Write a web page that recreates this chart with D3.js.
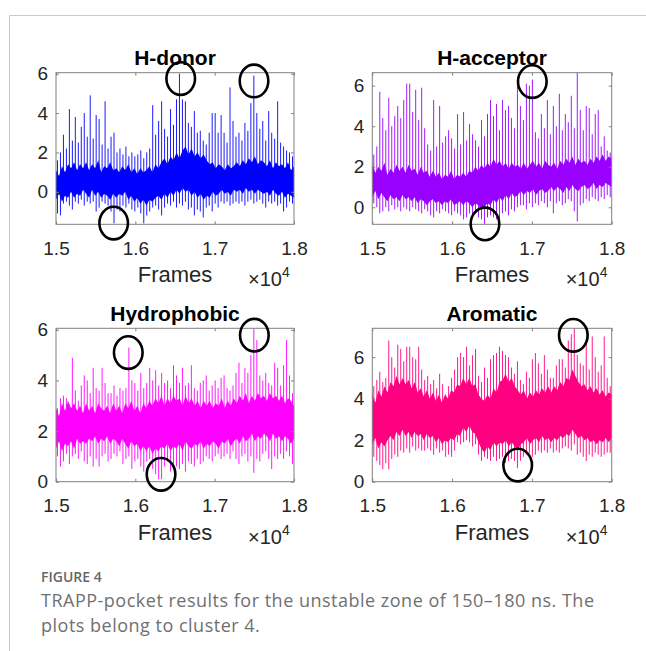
<!DOCTYPE html>
<html>
<head>
<meta charset="utf-8">
<style>
	body {margin: 0; background: #fff;}
	svg {display: block;}
	.tick text {font-family: "Liberation Sans", Arial, sans-serif; font-size: 19px; fill: #262626;}
</style>
<script src="https://d3js.org/d3.v7.min.js"></script>
</head>
<body>
<svg id="fig" width="646" height="651"></svg>

<script id="data">
	// frames run 1.5e4 .. 1.8e4 in every panel
	var frameRange = [15000, 18000];
	var xTicks = [15000, 16000, 17000, 18000];
	var xTickLabels = ["1.5", "1.6", "1.7", "1.8"];
	var yTicks = [0, 2, 4, 6];
	var titles = ["H-donor", "H-acceptor", "Hydrophobic", "Aromatic"];
	var colors = ["#0000ff", "#9900ff", "#ff00ff", "#ff0080"];
	var yLimits = [[-1.65, 6.05], [-0.84, 6.64], [0.0, 6.06], [0.0, 7.39]];

	// dense core of each trace, 80 bins (upper / lower edge of the thick part)
	var bandTop1 = [1.1, 0.8, 1.3, 1.0, 1.4, 1.2, 1.5, 1.1, 1.4, 1.2, 1.5, 1.1, 1.4, 1.2, 1.6, 1.0, 1.3, 1.2, 1.5, 1.1,
		1.2, 1.0, 1.3, 1.1, 1.4, 1.0, 1.2, 0.9, 1.2, 1.0, 1.1, 1.3, 1.0, 1.4, 1.2, 1.5, 1.7, 1.4, 1.8, 1.6,
		2.0, 1.7, 2.1, 2.3, 1.9, 2.2, 1.8, 2.0, 1.7, 1.9, 1.6, 1.4, 1.5, 1.2, 1.4, 1.3, 1.1, 1.4, 1.2, 1.3,
		1.5, 1.3, 1.6, 1.4, 1.7, 1.5, 1.8, 1.4, 1.6, 1.5, 1.3, 1.6, 1.2, 1.5, 1.3, 1.4, 1.2, 1.5, 1.1, 1.3];
	var bandBot1 = [-0.4, -0.1, -0.5, -0.2, -0.3, 0.0, -0.3, -0.1, -0.2, 0.1, -0.1, -0.3, 0.1, -0.2, 0.0, -0.3, -0.1, -0.2, -0.4, -0.1,
		-0.3, -0.1, -0.2, 0.0, -0.4, -0.2, -0.5, -0.3, -0.6, -0.4, -0.7, -0.4, -0.5, -0.3, -0.2, -0.4, -0.1, -0.3, 0.0, -0.2,
		0.1, -0.1, 0.2, 0.0, 0.1, -0.2, 0.0, -0.3, -0.1, -0.4, -0.2, -0.3, 0.0, -0.2, -0.1, 0.1, -0.1, 0.0, -0.2, 0.1,
		0.0, 0.1, -0.1, 0.2, 0.0, 0.1, -0.1, 0.1, 0.0, -0.1, 0.0, -0.2, 0.1, -0.1, -0.2, 0.0, -0.3, -0.1, -0.2, -0.3];
	var bandTop2 = [2.1, 1.7, 2.0, 1.8, 2.2, 1.6, 1.9, 1.7, 2.1, 1.8, 2.0, 1.7, 2.1, 1.8, 1.9, 1.6, 2.0, 1.7, 1.8, 1.5,
		1.8, 1.5, 1.7, 1.4, 1.6, 1.5, 1.8, 1.4, 1.6, 1.5, 1.7, 1.5, 1.8, 1.7, 2.0, 1.8, 2.1, 1.9, 2.2, 2.0,
		2.4, 2.1, 2.3, 2.0, 2.2, 1.9, 2.2, 2.0, 2.1, 1.9, 2.2, 1.9, 2.1, 2.3, 2.0, 2.2, 1.9, 2.3, 2.1, 2.0,
		2.2, 1.9, 2.3, 2.1, 2.4, 2.2, 2.5, 2.1, 2.4, 2.2, 2.3, 2.1, 2.4, 2.2, 2.5, 2.3, 2.6, 2.3, 2.5, 2.4];
	var bandBot2 = [0.5, 0.8, 0.4, 0.7, 0.5, 0.3, 0.6, 0.4, 0.5, 0.3, 0.6, 0.4, 0.5, 0.3, 0.5, 0.2, 0.4, 0.3, 0.1, 0.3,
		0.4, 0.2, 0.3, 0.1, 0.3, 0.2, 0.4, 0.1, 0.2, 0.3, 0.1, 0.3, 0.2, 0.0, 0.2, 0.1, -0.1, 0.0, 0.2, 0.1,
		0.4, 0.2, 0.5, 0.3, 0.6, 0.4, 0.7, 0.5, 0.6, 0.8, 0.6, 0.8, 0.7, 0.9, 0.6, 0.8, 0.9, 0.7, 0.8, 1.0,
		0.8, 1.0, 0.9, 0.7, 1.0, 0.8, 1.1, 0.9, 0.8, 1.0, 1.1, 0.9, 1.0, 1.2, 0.9, 1.1, 1.0, 1.2, 1.1, 1.0];
	var bandTop3 = [2.9, 2.6, 3.1, 2.8, 3.2, 2.9, 3.1, 2.8, 3.0, 2.7, 3.1, 2.8, 3.0, 2.7, 3.1, 2.9, 2.8, 3.0, 2.7, 3.1,
		2.8, 3.0, 2.7, 3.1, 2.9, 3.2, 2.8, 3.0, 2.7, 3.1, 2.9, 3.2, 3.0, 3.3, 3.1, 3.4, 3.0, 3.3, 3.1, 3.4,
		3.2, 3.3, 3.0, 3.4, 3.1, 3.3, 3.0, 3.2, 2.9, 3.2, 3.0, 3.2, 2.9, 3.1, 3.0, 3.3, 2.9, 3.2, 3.0, 3.3,
		3.1, 3.4, 3.2, 3.5, 3.1, 3.4, 3.2, 3.5, 3.3, 3.4, 3.2, 3.5, 3.3, 3.4, 3.2, 3.4, 3.1, 3.3, 3.2, 3.0];
	var bandBot3 = [1.3, 1.6, 1.2, 1.5, 1.4, 1.6, 1.3, 1.7, 1.5, 1.6, 1.5, 1.7, 1.6, 1.8, 1.5, 1.7, 1.6, 1.8, 1.5, 1.7,
		1.6, 1.4, 1.7, 1.5, 1.3, 1.6, 1.4, 1.5, 1.2, 1.4, 1.2, 1.4, 1.1, 1.3, 1.2, 1.4, 1.3, 1.5, 1.2, 1.4,
		1.3, 1.5, 1.2, 1.6, 1.4, 1.3, 1.5, 1.4, 1.6, 1.3, 1.5, 1.4, 1.6, 1.5, 1.3, 1.6, 1.5, 1.7, 1.4, 1.6,
		1.7, 1.5, 1.8, 1.6, 1.7, 1.9, 1.6, 1.8, 1.7, 1.9, 1.8, 1.6, 1.9, 1.7, 1.8, 1.6, 1.8, 1.7, 1.5, 1.7];
	var bandTop4 = [4.2, 3.8, 4.4, 4.1, 4.6, 4.3, 4.8, 4.6, 5.1, 4.7, 5.0, 4.7, 4.9, 4.5, 4.8, 4.3, 4.5, 4.1, 4.4, 4.0,
		4.3, 3.9, 4.2, 3.8, 4.2, 4.0, 4.4, 4.3, 4.7, 4.6, 5.0, 4.7, 5.0, 4.6, 4.7, 4.2, 4.0, 3.9, 4.2, 4.0,
		4.5, 4.3, 4.8, 4.9, 5.2, 4.8, 5.0, 4.6, 4.4, 4.2, 4.4, 4.0, 4.3, 4.1, 4.4, 4.2, 4.5, 4.3, 4.6, 4.3,
		4.6, 4.4, 4.8, 4.6, 5.0, 4.9, 5.4, 5.1, 4.8, 4.6, 4.7, 4.4, 4.6, 4.3, 4.5, 4.2, 4.4, 4.1, 4.3, 4.2];
	var bandBot4 = [1.8, 2.1, 1.6, 1.9, 1.7, 2.0, 2.2, 2.0, 2.4, 2.2, 2.5, 2.2, 2.4, 2.1, 2.4, 2.2, 2.3, 2.0, 2.3, 2.1,
		2.2, 1.9, 2.1, 1.8, 2.0, 1.9, 2.1, 2.0, 2.3, 2.2, 2.6, 2.4, 2.7, 2.4, 2.3, 1.9, 1.6, 1.4, 1.7, 1.5,
		1.9, 1.7, 1.9, 1.8, 2.0, 1.7, 1.9, 1.7, 1.5, 1.8, 1.9, 2.1, 1.8, 2.0, 2.1, 1.9, 2.2, 2.0, 2.1, 1.9,
		2.1, 2.0, 2.2, 2.1, 2.3, 2.2, 2.5, 2.3, 2.1, 2.2, 2.0, 2.1, 1.9, 2.0, 1.8, 2.0, 1.9, 2.1, 1.9, 2.1];

	// per-bin max / min (80 bins of 37.5 frames)
	var hi1 = [1.6, 2.0, 2.9, 2.2, 4.2, 2.6, 3.8, 2.5, 3.3, 4.0, 2.8, 4.9, 2.7, 3.9, 3.7, 2.4, 4.6, 2.2, 2.8, 3.0,
		2.0, 2.2, 1.9, 2.3, 1.8, 2.0, 1.8, 1.9, 2.1, 1.7, 2.0, 2.2, 4.4, 2.9, 3.6, 4.6, 3.2, 2.8, 4.2, 3.4,
		4.7, 6.0, 4.7, 4.6, 3.5, 3.3, 4.1, 3.0, 3.1, 2.6, 2.4, 3.0, 4.0, 4.0, 3.0, 3.9, 3.0, 2.5, 5.3, 3.6,
		2.8, 3.0, 2.6, 3.5, 3.1, 4.5, 5.9, 4.0, 3.2, 3.6, 2.6, 4.1, 3.0, 2.7, 4.6, 2.5, 2.3, 2.1, 2.0, 1.8];
	var lo1 = [-1.1, -1.2, -0.6, -0.5, -0.7, -0.9, -0.5, -0.6, -0.4, -0.7, -0.5, -0.6, -0.5, -1.0, -0.8, -0.5, -0.6, -0.7, -1.0, -1.6,
		-0.9, -1.0, -0.7, -0.8, -0.6, -0.9, -1.0, -0.8, -1.1, -1.6, -1.2, -1.0, -0.8, -0.7, -0.9, -1.2, -0.8, -0.6, -0.7, -0.5,
		-0.8, -0.6, -0.7, -0.5, -0.9, -0.8, -1.2, -0.9, -1.0, -1.3, -0.8, -0.7, -1.0, -0.6, -0.8, -0.5, -0.6, -0.5, -0.7, -0.6,
		-0.5, -0.6, -0.5, -0.7, -0.5, -0.4, -0.6, -0.5, -0.4, -0.6, -0.8, -0.5, -0.6, -0.5, -0.7, -0.6, -1.0, -0.8, -0.5, -0.6];
	var hi2 = [2.6, 3.0, 5.7, 4.4, 3.8, 5.4, 4.0, 4.5, 5.0, 4.4, 5.3, 6.1, 6.1, 4.7, 5.8, 4.3, 5.9, 3.9, 3.1, 2.8,
		5.3, 3.0, 5.0, 3.2, 3.5, 3.8, 3.4, 2.9, 4.6, 3.1, 4.7, 3.3, 4.1, 3.6, 3.3, 3.0, 4.3, 3.5, 4.6, 5.3,
		4.5, 5.1, 3.8, 5.3, 4.8, 5.0, 4.4, 3.9, 6.0, 5.0, 4.3, 6.1, 6.0, 6.3, 3.7, 3.4, 4.6, 3.9, 5.3, 3.6,
		5.0, 4.0, 5.6, 3.8, 4.6, 4.2, 5.5, 3.9, 6.64, 4.8, 3.8, 5.0, 4.9, 3.6, 4.6, 4.8, 3.0, 3.5, 2.8, 2.7];
	var lo2 = [0.2, 0.0, -0.3, -0.2, 0.0, -0.2, 0.1, -0.1, 0.0, -0.2, 0.0, -0.1, -0.2, 0.0, -0.1, -0.2, -0.3, -0.1, -0.2, -0.4,
		-0.5, -0.2, -0.3, -0.1, -0.2, -0.3, -0.4, -0.2, -0.3, -0.4, -0.6, -0.5, -0.3, -0.4, -0.3, -0.5, -0.6, -0.85, -0.5, -0.4,
		-0.5, -0.6, -0.85, -0.3, -0.2, -0.4, -0.1, -0.2, 0.0, 0.1, 0.1, -0.1, 0.2, 0.0, 0.2, 0.1, 0.3, 0.2, 0.0, 0.3,
		-0.3, 0.2, 0.3, 0.1, 0.2, 0.4, 0.3, -0.2, -0.7, 0.1, 0.2, 0.4, 0.3, 0.5, 0.4, 0.3, 0.5, 0.4, 0.6, 0.5];
	var hi3 = [2.9, 3.3, 3.4, 3.3, 3.0, 4.9, 3.6, 3.2, 3.8, 4.2, 4.0, 3.5, 4.5, 3.7, 3.6, 4.5, 3.9, 3.5, 3.5, 3.8,
		3.4, 3.7, 3.6, 3.7, 5.3, 4.0, 3.9, 3.6, 4.3, 3.7, 3.9, 4.5, 4.0, 4.4, 3.8, 4.3, 3.9, 4.0, 3.7, 4.6,
		4.2, 3.9, 4.5, 3.8, 3.9, 4.6, 3.7, 3.6, 3.9, 4.0, 4.2, 3.6, 3.8, 4.0, 3.7, 4.1, 4.2, 3.7, 3.6, 3.8,
		4.3, 4.7, 3.9, 4.5, 4.3, 5.0, 6.05, 5.6, 4.2, 4.0, 4.3, 3.9, 3.8, 4.7, 4.5, 3.8, 4.6, 5.6, 4.2, 3.5];
	var lo3 = [1.0, 0.6, 0.8, 1.1, 0.7, 1.0, 1.1, 0.9, 1.2, 0.8, 0.7, 1.0, 0.6, 0.9, 0.6, 1.0, 1.1, 0.8, 0.9, 1.1,
		1.0, 1.2, 0.7, 0.9, 1.0, 0.5, 0.8, 0.9, 0.6, 0.4, 0.8, 0.9, 0.5, 0.3, 0.1, 0.1, 0.6, 0.8, 0.4, 0.7,
		0.6, 0.5, 0.7, 0.4, 0.8, 0.7, 0.6, 0.9, 0.7, 0.8, 1.0, 0.9, 0.8, 1.0, 1.1, 0.9, 1.0, 1.1, 0.9, 1.2,
		0.9, 0.7, 1.0, 1.1, 0.8, 1.0, 0.35, 0.9, 0.8, 1.1, 1.2, 0.9, 0.5, 1.0, 0.9, 1.1, 0.9, 1.2, 1.0, 0.7];
	var hi4 = [4.6, 4.9, 5.3, 4.8, 5.0, 6.8, 6.0, 5.5, 6.6, 6.4, 5.8, 6.5, 6.5, 6.0, 5.9, 6.5, 5.4, 4.9, 5.1, 4.7,
		4.9, 4.5, 5.2, 4.7, 4.2, 4.6, 5.0, 5.4, 6.0, 6.2, 6.0, 6.5, 5.6, 6.1, 6.4, 5.1, 4.8, 5.5, 5.0, 5.9,
		6.1, 6.2, 6.5, 6.3, 6.1, 6.0, 5.5, 5.2, 5.8, 4.9, 4.7, 5.3, 5.0, 5.9, 6.2, 5.7, 5.2, 6.1, 5.4, 5.0,
		5.0, 5.6, 5.9, 5.9, 5.5, 6.8, 7.1, 7.4, 6.1, 5.7, 5.6, 6.8, 5.4, 7.0, 6.0, 5.3, 5.6, 7.0, 5.0, 4.6];
	var lo4 = [1.2, 1.0, 0.8, 0.6, 0.9, 0.6, 1.1, 1.3, 1.2, 1.5, 1.4, 1.6, 1.4, 1.7, 1.5, 1.6, 1.5, 1.5, 1.6, 1.5,
		1.3, 1.6, 1.4, 1.5, 1.2, 1.3, 1.2, 1.5, 1.9, 1.8, 1.9, 2.0, 1.9, 1.7, 1.8, 1.3, 1.0, 1.2, 1.1, 1.0,
		1.2, 1.0, 1.1, 1.2, 0.9, 1.0, 1.1, 1.0, 0.65, 1.0, 1.2, 1.3, 1.4, 1.2, 1.3, 1.5, 1.4, 1.5, 1.4, 1.6,
		1.4, 1.5, 1.4, 1.6, 1.7, 1.6, 1.5, 1.8, 1.3, 1.4, 1.2, 1.0, 1.3, 1.2, 1.4, 1.3, 1.2, 1.3, 1.4, 1.4];

	// hand-drawn circles: [frame, value]
	var marks1 = [[16572, 5.75], [17496, 5.63], [15727, -1.59]];
	var marks2 = [[17005, 6.2], [16412, -0.82]];
	var marks3 = [[15911, 5.1], [17500, 5.79], [16324, 0.29]];
	var marks4 = [[17519, 7.05], [16822, 0.8]];

	var captionHead = "FIGURE 4";
	var captionLines = ["TRAPP-pocket results for the unstable zone of 150\u2013180 ns. The", "plots belong to cluster 4."];
</script>

<script id="chart">
	var svg = d3.select("#fig");

	// page frame
	svg.append("path")
		.attr("d", "M9.5,651V15.5H646")
		.attr("fill", "none")
		.attr("stroke", "#c8c8c8")
		.attr("stroke-width", 1);

	var boxesX = [[56, 294], [372.3, 611.7]];
	var boxesY = [[72.7, 224.3], [328.3, 481.7]];

	var panels = [
		{top: bandTop1, bot: bandBot1, hi: hi1, lo: lo1, marks: marks1},
		{top: bandTop2, bot: bandBot2, hi: hi2, lo: lo2, marks: marks2},
		{top: bandTop3, bot: bandBot3, hi: hi3, lo: lo3, marks: marks3},
		{top: bandTop4, bot: bandBot4, hi: hi4, lo: lo4, marks: marks4}
	];

	panels.forEach(function (p, k) {
		var bx = boxesX[k % 2], by = boxesY[Math.floor(k / 2)];
		var g = svg.append("g");
		var color = colors[k];

		var x = d3.scaleLinear().domain(frameRange).range(bx);
		var y = d3.scaleLinear().domain(yLimits[k]).range([by[1], by[0]]);

		// dense core
		var bandStep = (frameRange[1] - frameRange[0]) / (p.top.length - 1);
		var area = d3.area()
			.x(function (d, i) { return x(frameRange[0] + i * bandStep); })
			.y0(function (d, i) { return y(p.bot[i]); })
			.y1(function (d) { return y(d); });
		g.append("path")
			.datum(p.top)
			.attr("d", area)
			.attr("fill", color);

		// spikes
		var binW = (frameRange[1] - frameRange[0]) / p.hi.length;
		g.selectAll("line.spike")
			.data(p.hi)
			.join("line")
			.attr("class", "spike")
			.attr("x1", function (d, i) { return x(frameRange[0] + (i + 0.5) * binW); })
			.attr("x2", function (d, i) { return x(frameRange[0] + (i + 0.5) * binW); })
			.attr("y1", function (d, i) { return y(p.lo[i]); })
			.attr("y2", function (d) { return y(d); })
			.attr("stroke", color)
			.attr("stroke-width", 0.9);

		// axes box + mirrored ticks
		g.append("rect")
			.attr("x", bx[0]).attr("y", by[0])
			.attr("width", bx[1] - bx[0]).attr("height", by[1] - by[0])
			.attr("fill", "none").attr("stroke", "#808080").attr("stroke-width", 1);

		var xb = g.append("g").attr("transform", "translate(0," + by[1] + ")")
			.call(d3.axisBottom(x).tickValues(xTicks).tickSize(-3).tickPadding(17)
				.tickFormat(function (d, i) { return xTickLabels[i]; }));
		var xt = g.append("g").attr("transform", "translate(0," + by[0] + ")")
			.call(d3.axisTop(x).tickValues(xTicks).tickSize(-3).tickFormat(""));
		var yl = g.append("g").attr("transform", "translate(" + bx[0] + ",0)")
			.call(d3.axisLeft(y).tickValues(yTicks).tickSize(-3).tickPadding(8).tickFormat(d3.format("d")));
		var yr = g.append("g").attr("transform", "translate(" + bx[1] + ",0)")
			.call(d3.axisRight(y).tickValues(yTicks).tickSize(-3).tickFormat(""));
		[xb, xt, yl, yr].forEach(function (a) {
			a.select(".domain").remove();
			a.selectAll(".tick line").attr("stroke", "#808080");
		});

		// title
		g.append("text")
			.attr("x", (bx[0] + bx[1]) / 2)
			.attr("y", by[0] - 7.5)
			.attr("text-anchor", "middle")
			.style("font-family", "'Liberation Sans', Arial, sans-serif")
			.style("font-size", "21px")
			.style("font-weight", "bold")
			.text(titles[k]);

		// x label and exponent
		g.append("text")
			.attr("x", (bx[0] + bx[1]) / 2)
			.attr("y", by[1] + 58)
			.attr("text-anchor", "middle")
			.style("font-family", "'Liberation Sans', Arial, sans-serif")
			.style("font-size", "22px")
			.style("fill", "#262626")
			.text("Frames");
		var ex = g.append("text")
			.attr("x", bx[1] - 46)
			.attr("y", by[1] + 62)
			.style("font-family", "'Liberation Sans', Arial, sans-serif")
			.style("font-size", "20px")
			.style("fill", "#262626");
		ex.append("tspan").text("\u00d710");
		ex.append("tspan").attr("dy", -9).style("font-size", "14px").text("4");

		// circles
		g.selectAll("ellipse")
			.data(p.marks)
			.join("ellipse")
			.attr("cx", function (d) { return x(d[0]); })
			.attr("cy", function (d) { return y(d[1]); })
			.attr("rx", 14.3)
			.attr("ry", 16.3)
			.attr("fill", "none")
			.attr("stroke", "#000")
			.attr("stroke-width", 2.6);
	});

	// caption
	svg.append("text")
		.attr("x", 41).attr("y", 581.5)
		.style("font-family", "'Open Sans', sans-serif")
		.style("font-size", "14px")
		.style("font-weight", 600)
		.style("fill", "#666")
		.text(captionHead);
	svg.selectAll("text.cap")
		.data(captionLines)
		.join("text")
		.attr("class", "cap")
		.attr("x", 41)
		.attr("y", function (d, i) { return 606.5 + i * 25.5; })
		.style("font-family", "'Open Sans', sans-serif")
		.style("font-size", "18px")
		.style("letter-spacing", "0.5px")
		.style("fill", "#707070")
		.text(function (d) { return d; });
</script>
</body>
</html>
